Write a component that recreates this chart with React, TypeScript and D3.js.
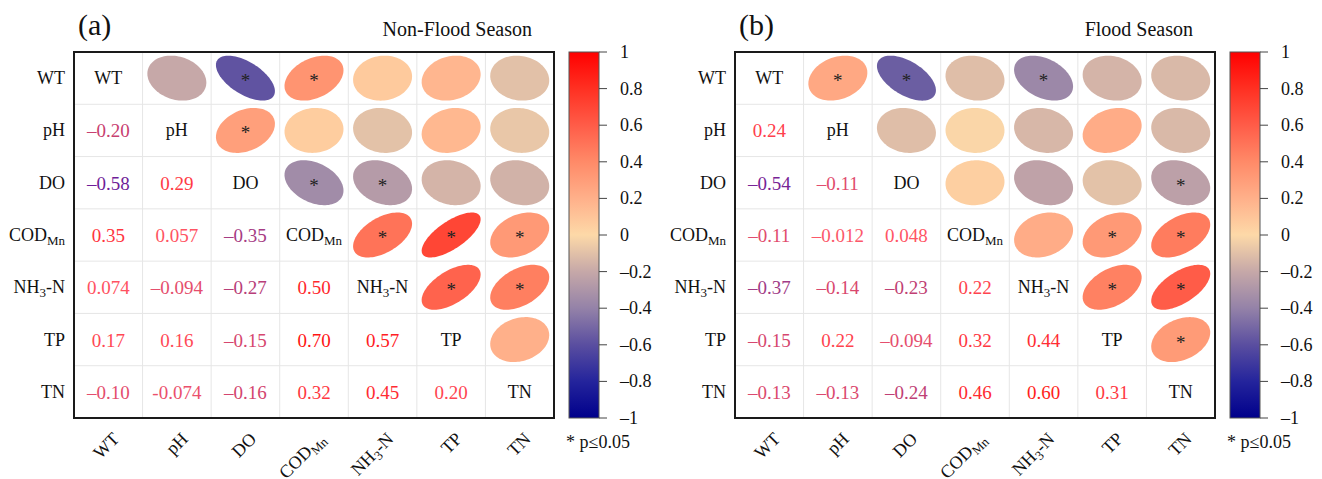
import React from "react";
import * as d3 from "d3";

// ---------- data ----------
const variables = ["WT", "pH", "DO", "CODMn", "NH3-N", "TP", "TN"];

// lower-triangle correlation matrices (row i, col j, j < i) — upper filled by symmetry
const nonFloodValues: number[][] = [
  [1],
  [-0.2, 1],
  [-0.58, 0.29, 1],
  [0.35, 0.057, -0.35, 1],
  [0.074, -0.094, -0.27, 0.5, 1],
  [0.17, 0.16, -0.15, 0.7, 0.57, 1],
  [-0.1, -0.074, -0.16, 0.32, 0.45, 0.2, 1],
];
const nonFloodLabels: string[][] = [
  [""],
  ["–0.20"],
  ["–0.58", "0.29"],
  ["0.35", "0.057", "–0.35"],
  ["0.074", "–0.094", "–0.27", "0.50"],
  ["0.17", "0.16", "–0.15", "0.70", "0.57"],
  ["–0.10", "-0.074", "–0.16", "0.32", "0.45", "0.20"],
];
// significant pairs [row, col] (p ≤ 0.05), shown as * in the upper triangle
const nonFloodSignif: [number, number][] = [
  [0, 2], [0, 3], [1, 2], [2, 3], [2, 4], [3, 4], [3, 5], [3, 6], [4, 5], [4, 6],
];

const floodValues: number[][] = [
  [1],
  [0.24, 1],
  [-0.54, -0.11, 1],
  [-0.11, -0.012, 0.048, 1],
  [-0.37, -0.14, -0.23, 0.22, 1],
  [-0.15, 0.22, -0.094, 0.32, 0.44, 1],
  [-0.13, -0.13, -0.24, 0.46, 0.6, 0.31, 1],
];
const floodLabels: string[][] = [
  [""],
  ["0.24"],
  ["–0.54", "–0.11"],
  ["–0.11", "–0.012", "0.048"],
  ["–0.37", "–0.14", "–0.23", "0.22"],
  ["–0.15", "0.22", "–0.094", "0.32", "0.44"],
  ["–0.13", "–0.13", "–0.24", "0.46", "0.60", "0.31"],
];
const floodSignif: [number, number][] = [
  [0, 1], [0, 2], [0, 4], [2, 6], [3, 5], [3, 6], [4, 5], [4, 6], [5, 6],
];

const colorbarTicks = [1, 0.8, 0.6, 0.4, 0.2, 0, -0.2, -0.4, -0.6, -0.8, -1];
const colorbarTickLabels = ["1", "0.8", "0.6", "0.4", "0.2", "0", "–0.2", "–0.4", "–0.6", "–0.8", "–1"];

const cmapDomain = [-1, -0.8, -0.6, -0.4, -0.2, 0, 0.2, 0.4, 0.6, 0.8, 1];
const cmapRange = [
  "#00008b", "#24249c", "#5a4ea0", "#9482a8", "#c6a8a8", "#fdd9a8",
  "#ffb08a", "#ff8a68", "#ff5c48", "#ff3022", "#ff0000",
];
const textDomain = [-0.6, -0.4, -0.2, 0, 0.3, 0.7];
const textRange = ["#6a1a9a", "#9a3a8a", "#c84070", "#ff5a6a", "#ff3a44", "#ff1414"];

// ---------- helpers ----------
const FONT = "'Liberation Serif', 'Times New Roman', Times, serif";
const cmap = d3.scaleLinear<string>().domain(cmapDomain).range(cmapRange).interpolate(d3.interpolateRgb).clamp(true);
const tcol = d3.scaleLinear<string>().domain(textDomain).range(textRange).interpolate(d3.interpolateRgb).clamp(true);

function VarLabel({ name, subSize }: { name: string; subSize: number }) {
  if (name === "CODMn")
    return (
      <>
        COD<tspan fontSize={subSize} dy={4}>Mn</tspan>
      </>
    );
  if (name === "NH3-N")
    return (
      <>
        NH<tspan fontSize={subSize} dy={4}>3</tspan>
        <tspan dy={-4}>-N</tspan>
      </>
    );
  return <>{name}</>;
}

function ellipsePath(r: number, w: number, h: number) {
  const a = Math.acos(Math.max(-1, Math.min(1, r)));
  const pts: [number, number][] = d3.range(0, 100).map((i) => {
    const k = (i / 100) * 2 * Math.PI;
    return [(Math.cos(k + a / 2) / 2) * w, (-Math.cos(k - a / 2) / 2) * h];
  });
  return d3.line().curve(d3.curveLinearClosed)(pts) as string;
}

function Panel({
  ox, tag, title, values, labels, signif, gid,
}: {
  ox: number; tag: string; title: string; values: number[][]; labels: string[][];
  signif: [number, number][]; gid: string;
}) {
  const n = variables.length;
  const left = ox, right = ox + 480, top = 52, bottom = 418;
  const x = d3.scaleBand<number>().domain(d3.range(n)).range([left, right]);
  const y = d3.scaleBand<number>().domain(d3.range(n)).range([top, bottom]);
  const cw = x.bandwidth(), ch = y.bandwidth();
  const val = (i: number, j: number) => (j <= i ? values[i][j] : values[j][i]);
  const sig = new Set(signif.map(([i, j]) => `${i}-${j}`));

  const cbX = right + 15, cbW = 30;
  const cbY = d3.scaleLinear().domain([1, -1]).range([top, bottom]);

  const cells: JSX.Element[] = [];
  for (let i = 0; i < n; i++) {
    for (let j = 0; j < n; j++) {
      const cx = x(j)! + cw / 2, cy = y(i)! + ch / 2;
      if (i === j) {
        cells.push(
          <text key={`d${i}`} x={cx} y={cy + 6} textAnchor="middle" fontSize={18} fill="#111">
            <VarLabel name={variables[i]} subSize={13} />
          </text>
        );
      } else if (j < i) {
        const v = values[i][j];
        cells.push(
          <text key={`l${i}-${j}`} x={cx} y={cy + 7} textAnchor="middle" fontSize={19} fill={tcol(v)}>
            {labels[i][j]}
          </text>
        );
      } else {
        const v = val(i, j);
        cells.push(
          <g key={`u${i}-${j}`} transform={`translate(${cx},${cy})`}>
            <path d={ellipsePath(v, cw * 0.86, ch * 0.86)} fill={cmap(v)} />
            {sig.has(`${i}-${j}`) && (
              <text x={0} y={9} textAnchor="middle" fontSize={19} fill="#222">*</text>
            )}
          </g>
        );
      }
    }
  }

  return (
    <g style={{ fontFamily: FONT }}>
      <defs>
        <linearGradient id={gid} x1="0" y1="0" x2="0" y2="1">
          {cmapDomain.map((d, k) => (
            <stop key={k} offset={(1 - d) / 2} stopColor={cmapRange[k]} />
          )).reverse()}
        </linearGradient>
      </defs>
      <text x={left + 4} y={35} fontSize={30} fill="#111">{tag}</text>
      <text x={right - 22} y={36} fontSize={20} textAnchor="end" fill="#111">{title}</text>

      {/* grid */}
      {d3.range(1, n).map((k) => (
        <line key={`gx${k}`} x1={x(k)!} x2={x(k)!} y1={top} y2={bottom} stroke="#e6e6e6" strokeWidth={1} />
      ))}
      {d3.range(1, n).map((k) => (
        <line key={`gy${k}`} x1={left} x2={right} y1={y(k)!} y2={y(k)!} stroke="#e6e6e6" strokeWidth={1} />
      ))}
      {cells}
      <rect x={left} y={top} width={right - left} height={bottom - top} fill="none" stroke="#1a1a1a" strokeWidth={2} />

      {/* row labels */}
      {variables.map((v, i) => (
        <text key={`r${i}`} x={left - 9} y={y(i)! + ch / 2 + 6} textAnchor="end" fontSize={18} fill="#111">
          <VarLabel name={v} subSize={13} />
        </text>
      ))}
      {/* column labels */}
      {variables.map((v, j) => {
        const ax = x(j)! + cw / 2 + 12, ay = 440;
        return (
          <text key={`c${j}`} x={ax} y={ay} transform={`rotate(-45,${ax},${ay})`} textAnchor="end" fontSize={18} fill="#111">
            <VarLabel name={v} subSize={13} />
          </text>
        );
      })}

      {/* colorbar */}
      <rect x={cbX} y={top} width={cbW} height={bottom - top} fill={`url(#${gid})`} stroke="#555" strokeWidth={1} />
      {colorbarTicks.map((t, k) => (
        <g key={`t${k}`}>
          <line x1={cbX + cbW} x2={cbX + cbW + 8} y1={cbY(t)} y2={cbY(t)} stroke="#444" strokeWidth={1} />
          <text x={cbX + cbW + 21} y={cbY(t) + 6} fontSize={18} fill="#111">{colorbarTickLabels[k]}</text>
        </g>
      ))}
      <text x={cbX - 3} y={448} fontSize={18} fill="#111">* p≤0.05</text>
    </g>
  );
}

export default function App() {
  return (
    <svg width={1322} height={479} style={{ position: "absolute", left: 0, top: 0, background: "#fff" }}>
      <rect width={1322} height={479} fill="#fff" />
      <Panel ox={74} tag="(a)" title="Non-Flood Season" values={nonFloodValues} labels={nonFloodLabels} signif={nonFloodSignif} gid="gradA" />
      <Panel ox={735} tag="(b)" title="Flood Season" values={floodValues} labels={floodLabels} signif={floodSignif} gid="gradB" />
    </svg>
  );
}
